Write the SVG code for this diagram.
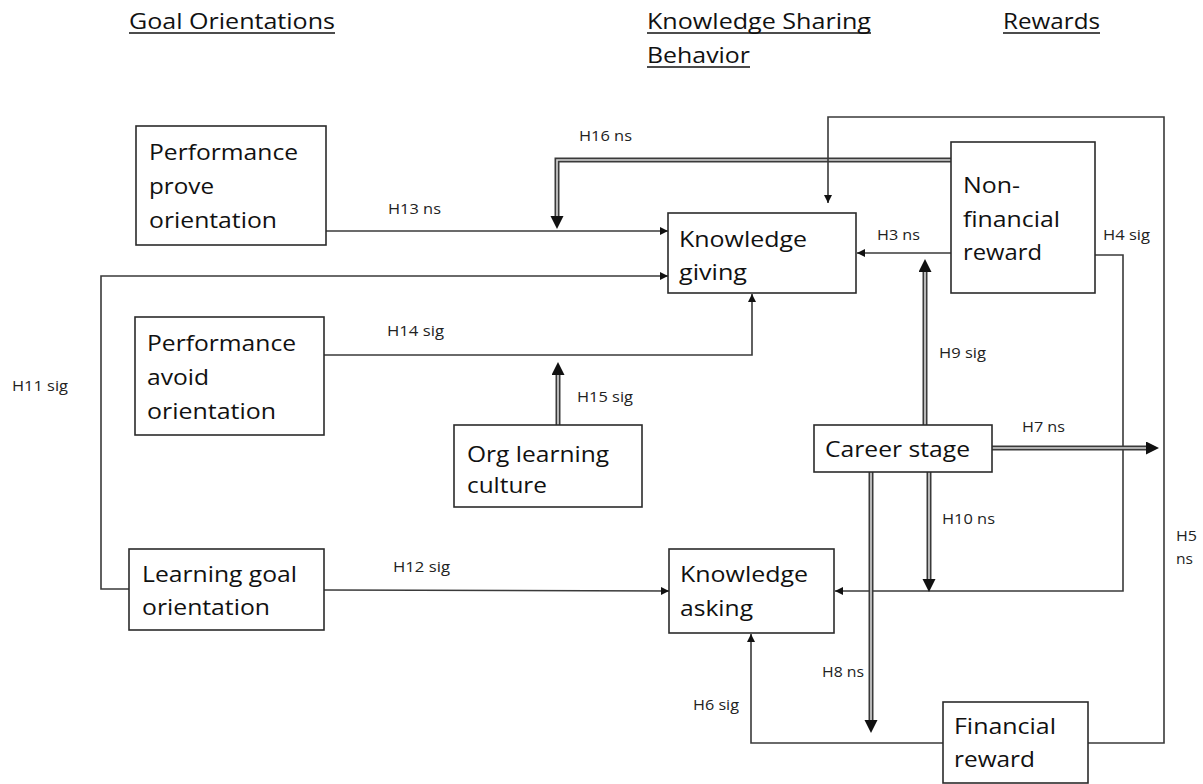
<svg xmlns="http://www.w3.org/2000/svg" width="1203" height="784" viewBox="0 0 1203 784">
<style>
  .box { fill: #ffffff; stroke: #2b2b2b; stroke-width: 1.6; }
  .t { font-family: "Open Sans", "Liberation Sans", sans-serif; font-size: 22px; fill: #111; }
  .h { font-family: "Open Sans", "Liberation Sans", sans-serif; font-size: 21px; fill: #111; }
  .lbl { font-family: "Open Sans", "Liberation Sans", sans-serif; font-size: 15px; fill: #222; }
  .ul { stroke: #111; stroke-width: 1.5; }
  .thin { fill: none; stroke: #3a3a3a; stroke-width: 1.6; }
  .dbl { fill: none; stroke: #3a3a3a; stroke-width: 5; }
  .dbl-in { fill: none; stroke: #d8d8d8; stroke-width: 1.6; }
</style>
<defs>
  <marker id="sa" markerUnits="userSpaceOnUse" markerWidth="10" markerHeight="10" refX="8" refY="4" orient="auto">
    <path d="M0,0 L8,4 L0,8 z" fill="#111"/>
  </marker>
  <marker id="ba" markerUnits="userSpaceOnUse" markerWidth="16" markerHeight="16" refX="0" refY="6.5" orient="auto">
    <path d="M0,0 L13,6.5 L0,13 z" fill="#111"/>
  </marker>
</defs>
<rect width="1203" height="784" fill="#ffffff"/>

<g id="headers">
  <text class="h" x="129" y="29" textLength="206" lengthAdjust="spacingAndGlyphs">Goal Orientations</text>
  <line class="ul" x1="129" y1="33" x2="335" y2="33"/>
  <text class="h" x="647" y="29" textLength="224" lengthAdjust="spacingAndGlyphs">Knowledge Sharing</text>
  <line class="ul" x1="647" y1="33" x2="871" y2="33"/>
  <text class="h" x="647" y="63" textLength="103" lengthAdjust="spacingAndGlyphs">Behavior</text>
  <line class="ul" x1="647" y1="67" x2="750" y2="67"/>
  <text class="h" x="1003" y="29" textLength="97" lengthAdjust="spacingAndGlyphs">Rewards</text>
  <line class="ul" x1="1003" y1="33" x2="1100" y2="33"/>
</g>

<g id="connectors">
  <!-- H16 double -->
  <path class="dbl" d="M951,160 H557 V216" marker-end="url(#ba)"/>
  <path class="dbl-in" d="M951,160 H557 V216"/>
  <!-- H5 -->
  <path class="thin" d="M1088,743 H1164 V117 H828 V203" marker-end="url(#sa)"/>
  <!-- H13 -->
  <path class="thin" d="M326,231 H668" marker-end="url(#sa)"/>
  <!-- H3 -->
  <path class="thin" d="M951,253 H857" marker-end="url(#sa)"/>
  <!-- H4 -->
  <path class="thin" d="M1095,255 H1123 V591 H835" marker-end="url(#sa)"/>
  <!-- H11 -->
  <path class="thin" d="M129,589 H101 V276 H668" marker-end="url(#sa)"/>
  <!-- H14 -->
  <path class="thin" d="M324,355 H752 V294" marker-end="url(#sa)"/>
  <!-- H12 -->
  <path class="thin" d="M324,590 L669,591" marker-end="url(#sa)"/>
  <!-- H6 -->
  <path class="thin" d="M943,743 H751 V634" marker-end="url(#sa)"/>
  <!-- H9 double -->
  <path class="dbl" d="M925,425 V272" marker-end="url(#ba)"/>
  <path class="dbl-in" d="M925,425 V272"/>
  <!-- H15 double -->
  <path class="dbl" d="M558,425 V375" marker-end="url(#ba)"/>
  <path class="dbl-in" d="M558,425 V375"/>
  <!-- H7 double -->
  <path class="dbl" d="M992,448 H1146" marker-end="url(#ba)"/>
  <path class="dbl-in" d="M992,448 H1146"/>
  <!-- H10 double -->
  <path class="dbl" d="M929,472 V579" marker-end="url(#ba)"/>
  <path class="dbl-in" d="M929,472 V579"/>
  <!-- H8 double -->
  <path class="dbl" d="M871,472 V720" marker-end="url(#ba)"/>
  <path class="dbl-in" d="M871,472 V720"/>

  <text class="lbl" x="579" y="141" textLength="53" lengthAdjust="spacingAndGlyphs">H16 ns</text>
  <text class="lbl" x="388" y="214" textLength="53" lengthAdjust="spacingAndGlyphs">H13 ns</text>
  <text class="lbl" x="877" y="240" textLength="43" lengthAdjust="spacingAndGlyphs">H3 ns</text>
  <text class="lbl" x="1103" y="240" textLength="47" lengthAdjust="spacingAndGlyphs">H4 sig</text>
  <text class="lbl" x="12" y="391" textLength="56" lengthAdjust="spacingAndGlyphs">H11 sig</text>
  <text class="lbl" x="387" y="336" textLength="57" lengthAdjust="spacingAndGlyphs">H14 sig</text>
  <text class="lbl" x="939" y="358" textLength="47" lengthAdjust="spacingAndGlyphs">H9 sig</text>
  <text class="lbl" x="577" y="402" textLength="56" lengthAdjust="spacingAndGlyphs">H15 sig</text>
  <text class="lbl" x="1022" y="432" textLength="43" lengthAdjust="spacingAndGlyphs">H7 ns</text>
  <text class="lbl" x="942" y="524" textLength="53" lengthAdjust="spacingAndGlyphs">H10 ns</text>
  <text class="lbl" x="1176" y="541" textLength="21" lengthAdjust="spacingAndGlyphs">H5</text>
  <text class="lbl" x="1176" y="564" textLength="17" lengthAdjust="spacingAndGlyphs">ns</text>
  <text class="lbl" x="393" y="572" textLength="57" lengthAdjust="spacingAndGlyphs">H12 sig</text>
  <text class="lbl" x="822" y="677" textLength="42" lengthAdjust="spacingAndGlyphs">H8 ns</text>
  <text class="lbl" x="693" y="710" textLength="46" lengthAdjust="spacingAndGlyphs">H6 sig</text>
</g>

<g id="node-perf-prove">
  <rect class="box" x="136" y="126" width="190" height="119"/>
  <text class="t" x="149" y="160" textLength="149" lengthAdjust="spacingAndGlyphs">Performance</text>
  <text class="t" x="149" y="194" textLength="65" lengthAdjust="spacingAndGlyphs">prove</text>
  <text class="t" x="149" y="228" textLength="128" lengthAdjust="spacingAndGlyphs">orientation</text>
</g>

<g id="node-knowledge-giving">
  <rect class="box" x="668" y="213" width="188" height="80"/>
  <text class="t" x="679" y="247" textLength="128" lengthAdjust="spacingAndGlyphs">Knowledge</text>
  <text class="t" x="679" y="280" textLength="68" lengthAdjust="spacingAndGlyphs">giving</text>
</g>

<g id="node-nonfinancial">
  <rect class="box" x="951" y="142" width="144" height="151"/>
  <text class="t" x="963" y="193" textLength="57" lengthAdjust="spacingAndGlyphs">Non-</text>
  <text class="t" x="963" y="227" textLength="97" lengthAdjust="spacingAndGlyphs">financial</text>
  <text class="t" x="963" y="260" textLength="79" lengthAdjust="spacingAndGlyphs">reward</text>
</g>

<g id="node-perf-avoid">
  <rect class="box" x="135" y="317" width="189" height="118"/>
  <text class="t" x="147" y="351" textLength="149" lengthAdjust="spacingAndGlyphs">Performance</text>
  <text class="t" x="147" y="385" textLength="62" lengthAdjust="spacingAndGlyphs">avoid</text>
  <text class="t" x="147" y="419" textLength="129" lengthAdjust="spacingAndGlyphs">orientation</text>
</g>

<g id="node-org-learning">
  <rect class="box" x="454" y="425" width="188" height="82"/>
  <text class="t" x="467" y="462" textLength="142" lengthAdjust="spacingAndGlyphs">Org learning</text>
  <text class="t" x="467" y="493" textLength="80" lengthAdjust="spacingAndGlyphs">culture</text>
</g>

<g id="node-career">
  <rect class="box" x="814" y="425" width="178" height="47"/>
  <text class="t" x="825" y="457" textLength="145" lengthAdjust="spacingAndGlyphs">Career stage</text>
</g>

<g id="node-learning-goal">
  <rect class="box" x="129" y="549" width="195" height="81"/>
  <text class="t" x="142" y="582" textLength="155" lengthAdjust="spacingAndGlyphs">Learning goal</text>
  <text class="t" x="142" y="615" textLength="128" lengthAdjust="spacingAndGlyphs">orientation</text>
</g>

<g id="node-knowledge-asking">
  <rect class="box" x="669" y="549" width="165" height="84"/>
  <text class="t" x="680" y="582" textLength="128" lengthAdjust="spacingAndGlyphs">Knowledge</text>
  <text class="t" x="680" y="616" textLength="73" lengthAdjust="spacingAndGlyphs">asking</text>
</g>

<g id="node-financial">
  <rect class="box" x="943" y="702" width="145" height="81"/>
  <text class="t" x="954" y="734" textLength="102" lengthAdjust="spacingAndGlyphs">Financial</text>
  <text class="t" x="954" y="767" textLength="81" lengthAdjust="spacingAndGlyphs">reward</text>
</g>
</svg>
